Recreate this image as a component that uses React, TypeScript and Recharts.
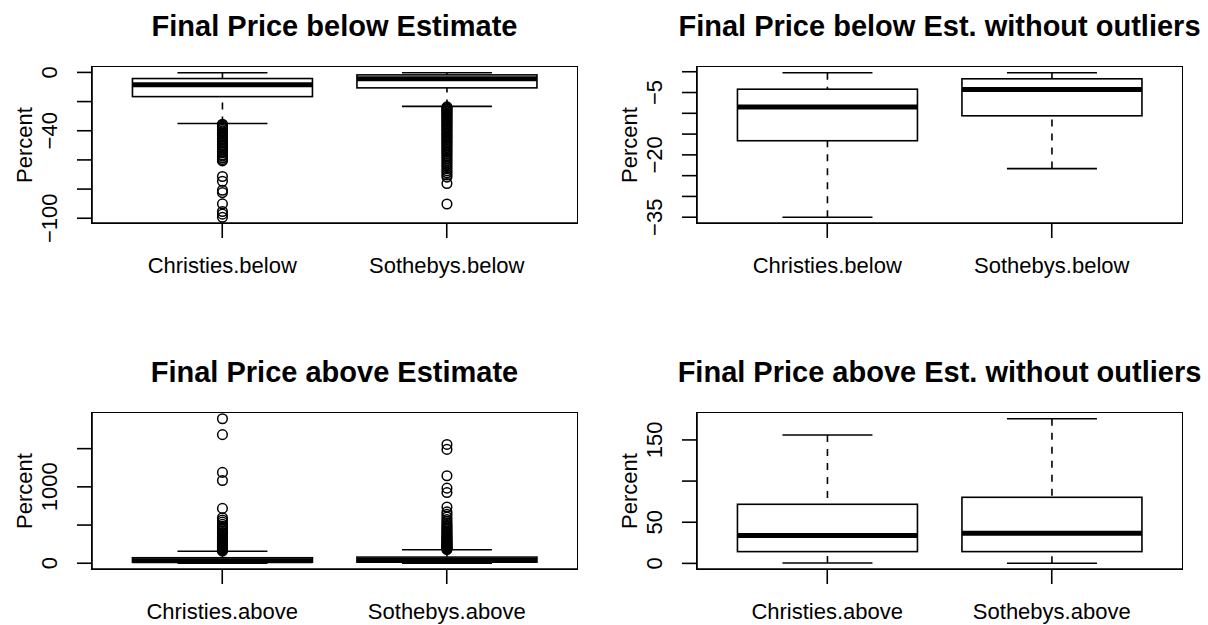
import React from 'react'
import { ComposedChart, Bar, XAxis, YAxis } from 'recharts'

const FONT = '"Liberation Sans", Arial, Helvetica, sans-serif'
const INK = '#000000'

const belowNames = ['Christies.below', 'Sothebys.below']
const aboveNames = ['Christies.above', 'Sothebys.above']

// [lower whisker, Q1, median, Q3, upper whisker]
const christiesBelow = [-35, -16.6, -8.5, -4.2, -0.25]
const sothebysBelow = [-23.3, -10.6, -4.3, -1.7, -0.25]
const christiesAbove = [0.5, 14.3, 33.9, 71.8, 156]
const sothebysAbove = [0.2, 14.3, 36.7, 80.3, 175.7]

const christiesBelowOut = [
  -35.5, -36, -36.8, -37.5, -38.2, -39, -40, -40.8, -41.5, -42.5, -43.4, -44.5,
  -45.3, -46.2, -47.5, -48.4, -49.6, -50.5, -51.8, -53, -54.2, -55, -56.5, -57.4,
  -58.6, -59.8, -60.7, -71.4, -74.6, -80.8, -82.4, -90.1, -95.4, -97.2, -99.3,
]
const sothebysBelowOut = [
  -23.6, -24.2, -24.9, -25.5, -26.3, -27, -27.8, -28.5, -29.3, -30.1, -31, -31.8,
  -32.6, -33.5, -34.3, -35.2, -36, -37, -37.9, -38.8, -39.7, -40.6, -41.5, -42.5,
  -43.4, -44.4, -45.3, -46.3, -47.3, -48.2, -49.3, -50.3, -51.4, -52.5, -53.6,
  -54.6, -55.8, -57, -58.2, -59.5, -60.7, -62, -63.3, -64.6, -66, -67.4, -68.8,
  -70.3, -71.8, -76.2, -90.2,
]
const christiesAboveOut = [
  160, 168, 175, 183, 190, 198, 206, 215, 224, 233, 243, 253, 263, 274, 286, 298,
  310, 323, 337, 352, 368, 385, 402, 420, 440, 462, 485, 510, 538, 566, 596, 718,
  1083, 1189, 1683, 1891,
]
const sothebysAboveOut = [
  180, 187, 195, 203, 211, 220, 229, 238, 248, 258, 269, 280, 292, 304, 317, 330,
  344, 358, 373, 389, 405, 422, 440, 458, 478, 498, 520, 545, 572, 605, 640, 672,
  736, 925, 983, 1145, 1490, 1555,
]

const belowTicks = [0, -20, -40, -60, -80, -100]
const belowLabels = [0, -40, -100]
const belowTrimTicks = [0, -5, -10, -15, -20, -25, -30, -35]
const belowTrimLabels = [-5, -20, -35]
const aboveTicks = [0, 500, 1000, 1500]
const aboveLabels = [0, 1000]
const aboveTrimTicks = [0, 50, 100, 150]
const aboveTrimLabels = [0, 50, 150]

type Row = { name: string; stats: number[]; outliers: number[]; lo: number; hi: number }

const buildRows = (names: string[], stats: number[][], outs: number[][]): Row[] =>
  names.map((name, i) => ({
    name,
    stats: stats[i],
    outliers: outs[i],
    lo: Math.min(stats[i][0], ...outs[i]),
    hi: Math.max(stats[i][4], ...outs[i]),
  }))

// R pads the data range by 4% on each side
const rDomain = (rows: Row[]) => {
  const lo = Math.min(...rows.map((r) => r.lo))
  const hi = Math.max(...rows.map((r) => r.hi))
  const d = (hi - lo) * 0.04
  return [lo - d, hi + d]
}

const minus = (v: number) => String(v).replace('-', '\u2212')

// chart geometry (plot box inside each 604x312 panel)
const W = 604
const H = 312
const M = { top: 67, right: 27, bottom: 39, left: 0 }
const Y_W = 92
const X_H = 50
const LW = 1.6

function BoxShape(props: any) {
  const { x, y, width, height, payload } = props
  const { stats, outliers, lo, hi } = payload as Row
  const k = height / (hi - lo)
  const py = (v: number) => y + (hi - v) * k
  const cx = x + width / 2
  const [wLo, q1, med, q3, wHi] = stats
  const cap = width / 4
  return (
    <g>
      <line x1={cx} x2={cx} y1={py(wHi)} y2={py(q3)} stroke={INK} strokeWidth={LW} strokeDasharray="7 7" />
      <line x1={cx} x2={cx} y1={py(wLo)} y2={py(q1)} stroke={INK} strokeWidth={LW} strokeDasharray="7 7" />
      <line x1={cx - cap} x2={cx + cap} y1={py(wHi)} y2={py(wHi)} stroke={INK} strokeWidth={LW} />
      <line x1={cx - cap} x2={cx + cap} y1={py(wLo)} y2={py(wLo)} stroke={INK} strokeWidth={LW} />
      <rect x={x} y={py(q3)} width={width} height={py(q1) - py(q3)} fill="#fff" stroke={INK} strokeWidth={LW} />
      <line x1={x} x2={x + width} y1={py(med)} y2={py(med)} stroke={INK} strokeWidth={5} />
      {outliers.map((v, i) => (
        <circle key={i} cx={cx} cy={py(v)} r={4.8} fill="none" stroke={INK} strokeWidth={1.5} />
      ))}
    </g>
  )
}

function XTick(props: any) {
  const { x, y, payload } = props
  return (
    <text x={x} y={y + 33} textAnchor="middle" fontSize={22} fontFamily={FONT} fill={INK}>
      {payload.value}
    </text>
  )
}

function YTick(props: any) {
  const { x, y, payload, labels } = props
  if (!labels.includes(payload.value)) return null
  const bx = x - 18
  return (
    <text x={bx} y={y} transform={`rotate(-90 ${bx} ${y})`} textAnchor="middle" fontSize={22} fontFamily={FONT} fill={INK}>
      {minus(payload.value)}
    </text>
  )
}

function YTitle(props: any) {
  const { viewBox } = props
  if (!viewBox) return null
  const bx = viewBox.x + 32
  const cy = viewBox.y + viewBox.height / 2
  return (
    <text x={bx} y={cy} transform={`rotate(-90 ${bx} ${cy})`} textAnchor="middle" fontSize={22} fontFamily={FONT} fill={INK}>
      Percent
    </text>
  )
}

function Panel({ title, rows, ticks, labels, left, top }: any) {
  const domain = rDomain(rows)
  const line = { stroke: INK, strokeWidth: LW }
  const plotW = W - M.left - M.right - Y_W
  const plotH = H - M.top - M.bottom - X_H
  return (
    <div style={{ position: 'absolute', left, top, width: W, height: H }}>
      <div
        style={{
          position: 'absolute',
          left: M.left + Y_W - 60,
          width: plotW + 120,
          top: 12,
          textAlign: 'center',
          fontSize: 29,
          lineHeight: '29px',
          fontWeight: 'bold',
          fontFamily: FONT,
          color: INK,
          whiteSpace: 'nowrap',
        }}
      >
        {title}
      </div>
      <ComposedChart width={W} height={H} data={rows} margin={M} barCategoryGap="10%">
        <XAxis
          dataKey="name"
          type="category"
          padding={{ left: 18, right: 18 }}
          height={X_H}
          interval={0}
          tickSize={15}
          tickLine={line}
          axisLine={line}
          tick={<XTick />}
        />
        <YAxis
          type="number"
          domain={domain}
          ticks={ticks}
          interval={0}
          width={Y_W}
          tickSize={15}
          tickLine={line}
          axisLine={line}
          tick={<YTick labels={labels} />}
          label={<YTitle />}
        />
        <Bar dataKey={(r: Row) => [r.lo, r.hi]} shape={<BoxShape />} isAnimationActive={false} />
      </ComposedChart>
      {/* plot frame (box() in R) */}
      <div
        style={{
          position: 'absolute',
          left: M.left + Y_W - LW / 2,
          top: M.top - LW / 2,
          width: plotW,
          height: plotH,
          border: `${LW}px solid ${INK}`,
          pointerEvents: 'none',
        }}
      />
    </div>
  )
}

const belowRows = buildRows(belowNames, [christiesBelow, sothebysBelow], [christiesBelowOut, sothebysBelowOut])
const belowTrimRows = buildRows(belowNames, [christiesBelow, sothebysBelow], [[], []])
const aboveRows = buildRows(aboveNames, [christiesAbove, sothebysAbove], [christiesAboveOut, sothebysAboveOut])
const aboveTrimRows = buildRows(aboveNames, [christiesAbove, sothebysAbove], [[], []])

export default function App() {
  return (
    <div style={{ position: 'relative', width: 1208, height: 625, background: '#fff', fontFamily: FONT }}>
      <style>{'body{margin:0;background:#fff}'}</style>
      <Panel title="Final Price below Estimate" rows={belowRows} ticks={belowTicks} labels={belowLabels} left={0} top={0} />
      <Panel title="Final Price below Est. without outliers" rows={belowTrimRows} ticks={belowTrimTicks} labels={belowTrimLabels} left={605} top={0} />
      <Panel title="Final Price above Estimate" rows={aboveRows} ticks={aboveTicks} labels={aboveLabels} left={0} top={346} />
      <Panel title="Final Price above Est. without outliers" rows={aboveTrimRows} ticks={aboveTrimTicks} labels={aboveTrimLabels} left={605} top={346} />
    </div>
  )
}
